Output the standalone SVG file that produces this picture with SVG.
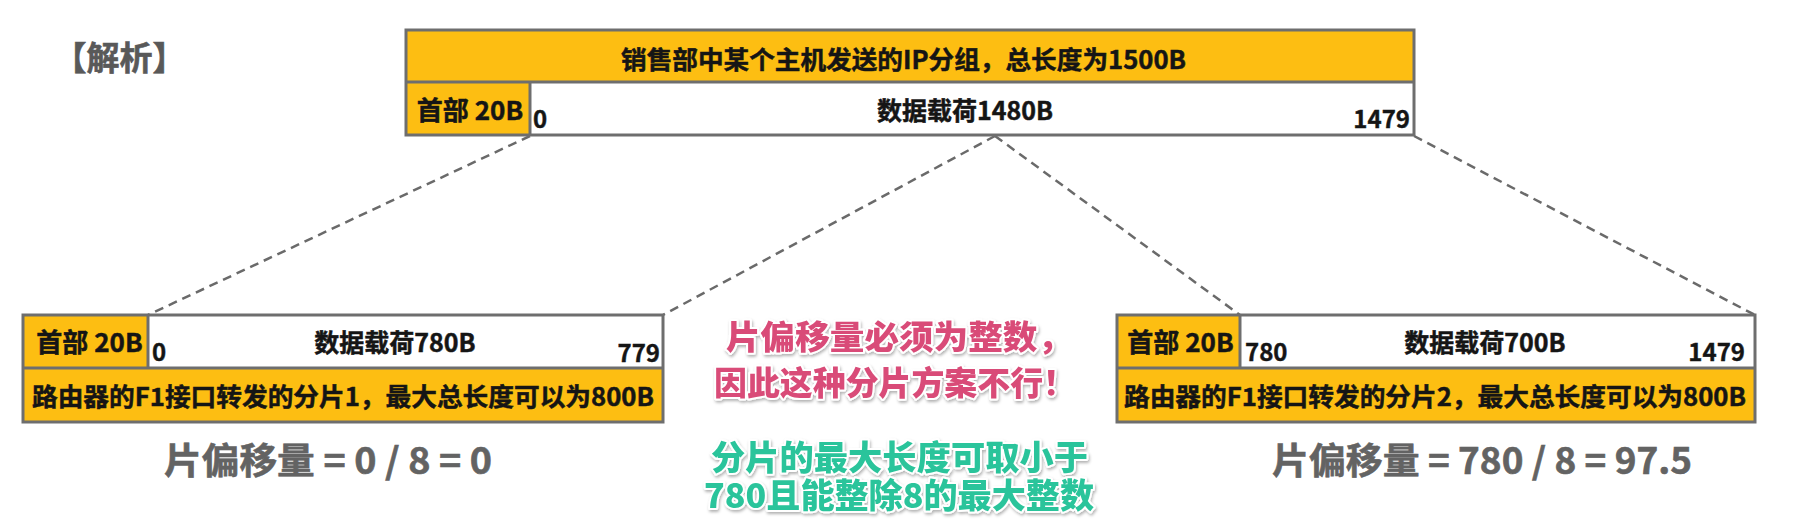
<svg xmlns="http://www.w3.org/2000/svg" width="1803" height="522" viewBox="0 0 1803 522">
<defs>
<style>
text{font-family:"Noto Sans CJK SC","Noto Sans",sans-serif;font-weight:700;}
.lbl{font-size:25px;fill:#151515;stroke:#151515;stroke-width:0.5;}
.num{font-size:24px;fill:#151515;stroke:#151515;stroke-width:0.4;}
.mid{text-anchor:middle;}
.end{text-anchor:end;}
.org{fill:#FDBE12;}
.wht{fill:#ffffff;}
.bd{fill:none;stroke:#6e6e6e;stroke-width:3;}
.ln{stroke:#6e6e6e;stroke-width:3;}
.dash{stroke:#6a6a6a;stroke-width:2.5;stroke-dasharray:9 6;fill:none;}
.formula{font-size:36px;fill:#636363;stroke:#636363;stroke-width:0.6;}
.pink{font-size:33px;font-weight:900;fill:#D94C78;stroke:#ffffff;stroke-width:4;paint-order:stroke;stroke-linejoin:round;}
.green{font-size:34px;font-weight:900;fill:#2CC49B;stroke:#ffffff;stroke-width:4;paint-order:stroke;stroke-linejoin:round;}
</style>
<filter id="sh" x="-10%" y="-30%" width="120%" height="160%">
<feDropShadow dx="1" dy="2" stdDeviation="1.5" flood-color="#000" flood-opacity="0.3"/>
</filter>
</defs>
<rect width="1803" height="522" fill="#ffffff"/>

<text id="title-jiexi" x="119.5" y="70" style="font-size:33px;fill:#595959;stroke:#595959;stroke-width:0.6" class="mid">【解析】</text>

<g id="connectors">
<line class="dash" x1="530" y1="136" x2="148" y2="315"/>
<line class="dash" x1="995" y1="136" x2="663" y2="315"/>
<line class="dash" x1="995" y1="136" x2="1240" y2="315"/>
<line class="dash" x1="1414" y1="136" x2="1755" y2="315"/>
</g>

<g id="packet">
<rect class="org" x="406" y="30" width="1008" height="52"/>
<rect class="org" x="406" y="82" width="124" height="53"/>
<rect class="wht" x="530" y="82" width="884" height="53"/>
<rect class="bd" x="406" y="30" width="1008" height="105"/>
<line class="ln" x1="406" y1="82" x2="1414" y2="82"/>
<line class="ln" x1="530" y1="82" x2="530" y2="135"/>
<text class="lbl" x="621" y="68.5" textLength="565" lengthAdjust="spacingAndGlyphs">销售部中某个主机发送的IP分组，总长度为1500B</text>
<text class="lbl mid" x="470" y="120" style="font-size:26px">首部 20B</text>
<text class="num" x="533" y="128">0</text>
<text class="lbl mid" x="965" y="119.5">数据载荷1480B</text>
<text class="num end" x="1410" y="128">1479</text>
</g>

<g id="fragment1">
<rect class="org" x="23" y="315" width="125" height="53"/>
<rect class="wht" x="148" y="315" width="515" height="53"/>
<rect class="org" x="23" y="368" width="640" height="54"/>
<rect class="bd" x="23" y="315" width="640" height="107"/>
<line class="ln" x1="23" y1="368" x2="663" y2="368"/>
<line class="ln" x1="148" y1="315" x2="148" y2="368"/>
<text class="lbl mid" x="89.5" y="352" style="font-size:26px">首部 20B</text>
<text class="num" x="152" y="361">0</text>
<text class="lbl mid" x="395" y="352">数据载荷780B</text>
<text class="num end" x="660" y="362">779</text>
<text class="lbl" x="32" y="406" textLength="622" lengthAdjust="spacingAndGlyphs">路由器的F1接口转发的分片1，最大总长度可以为800B</text>
</g>

<g id="fragment2">
<rect class="org" x="1117" y="315" width="123" height="53"/>
<rect class="wht" x="1240" y="315" width="515" height="53"/>
<rect class="org" x="1117" y="368" width="638" height="54"/>
<rect class="bd" x="1117" y="315" width="638" height="107"/>
<line class="ln" x1="1117" y1="368" x2="1755" y2="368"/>
<line class="ln" x1="1240" y1="315" x2="1240" y2="368"/>
<text class="lbl mid" x="1180.5" y="352" style="font-size:26px">首部 20B</text>
<text class="num" x="1245" y="361">780</text>
<text class="lbl mid" x="1485" y="352">数据载荷700B</text>
<text class="num end" x="1745" y="361">1479</text>
<text class="lbl" x="1124" y="406" textLength="622" lengthAdjust="spacingAndGlyphs">路由器的F1接口转发的分片2，最大总长度可以为800B</text>
</g>

<g id="offset1">
<text class="formula" x="164" y="474" textLength="328" lengthAdjust="spacingAndGlyphs">片偏移量 = 0 / 8 = 0</text>
</g>
<g id="offset2">
<text class="formula" x="1272" y="474" textLength="420" lengthAdjust="spacingAndGlyphs">片偏移量 = 780 / 8 = 97.5</text>
</g>

<g id="note-pink" filter="url(#sh)">
<text class="pink"><tspan x="726" y="348.5" textLength="346" lengthAdjust="spacingAndGlyphs">片偏移量必须为整数，</tspan><tspan x="714" y="394.5" textLength="362" lengthAdjust="spacingAndGlyphs">因此这种分片方案不行！</tspan></text>
</g>
<g id="note-green" filter="url(#sh)">
<text class="green"><tspan x="711" y="470" textLength="377" lengthAdjust="spacingAndGlyphs">分片的最大长度可取小于</tspan><tspan x="704" y="508" textLength="390" lengthAdjust="spacingAndGlyphs">780且能整除8的最大整数</tspan></text>
</g>
</svg>
